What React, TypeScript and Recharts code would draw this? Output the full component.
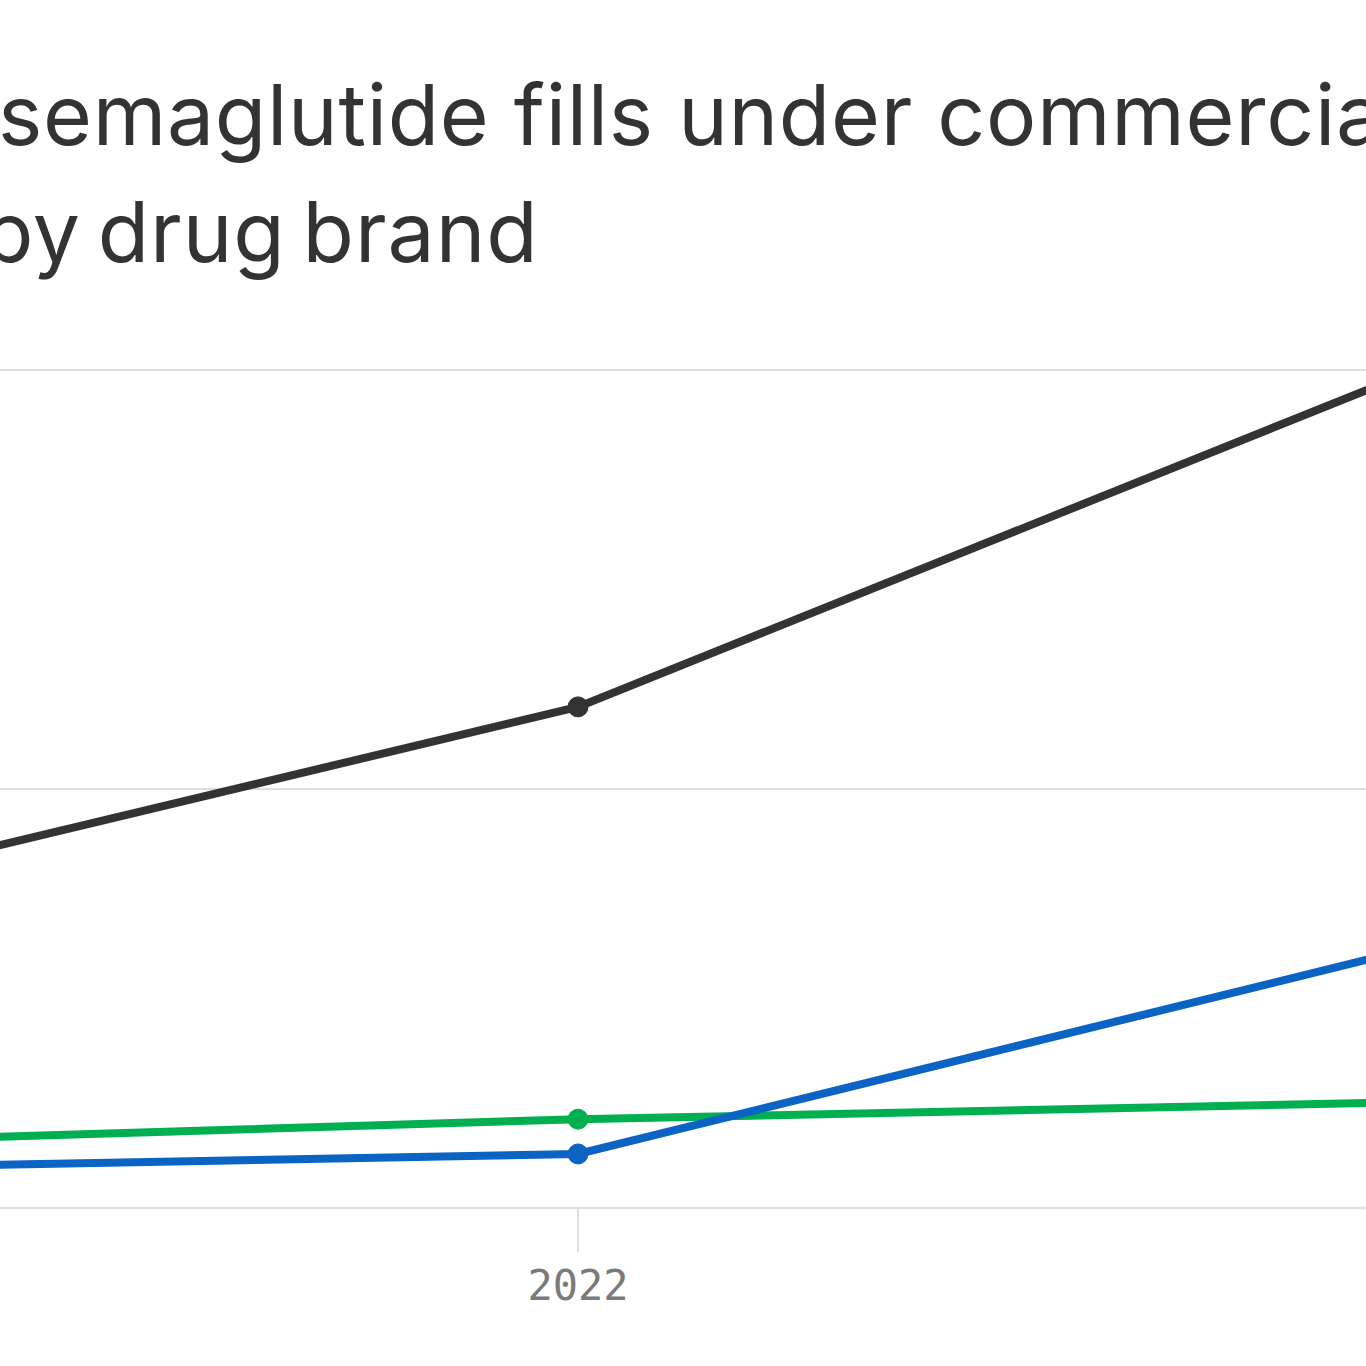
import React from "react";
import { LineChart, Line, XAxis, YAxis, CartesianGrid } from "recharts";

// fills by year, millions
const years = [2021, 2022, 2023];
const ozempic = [0.727, 1.196, 1.984];
const wegovy = [0.092, 0.129, 0.612];
const rybelsus = [0.152, 0.212, 0.252];
const yTicks = [0, 1, 2];
const xTicks = [2022];

const data = years.map((year, i) => ({
  year,
  ozempic: ozempic[i],
  wegovy: wegovy[i],
  rybelsus: rybelsus[i],
}));

const titleLines = ["semaglutide fills under commercial insurance,", "by drug brand"];

const App: React.FC = () => {
  return (
    <div
      style={{
        position: "absolute",
        left: 0,
        top: 0,
        width: 1366,
        height: 1366,
        overflow: "hidden",
        background: "#fff",
      }}
    >
      <svg width={1366} height={300} style={{ position: "absolute", left: 0, top: 0 }}>
        <text x={-2} y={145} fontFamily="Inter" fontSize={84} letterSpacing={0.7} fill="#333">
          {titleLines[0]}
        </text>
        <text
          x={-18}
          y={262}
          fontFamily="Inter"
          fontSize={84}
          letterSpacing={1}
          wordSpacing={-8}
          fill="#333"
        >
          {titleLines[1]}
        </text>
      </svg>
      <div style={{ position: "absolute", left: -244, top: 0 }}>
        <LineChart
          width={1644}
          height={1366}
          data={data}
          margin={{ top: 370, right: 0, left: 0, bottom: 0 }}
        >
          <CartesianGrid vertical={false} stroke="#dedede" strokeWidth={2} />
          <XAxis
            dataKey="year"
            type="number"
            domain={[2021, 2023]}
            ticks={xTicks}
            axisLine={false}
            tickSize={44}
            tickMargin={18}
            tickLine={{ stroke: "#dedede", strokeWidth: 2 }}
            tick={{ fontFamily: "DejaVu Sans Mono", fontSize: 42, fill: "#7a7a7a" }}
            height={158}
          />
          <YAxis hide domain={[0, 2]} ticks={yTicks} />
          <Line
            dataKey="ozempic"
            stroke="#333333"
            strokeWidth={8}
            dot={{ r: 10, fill: "#333333", stroke: "#333333", strokeWidth: 1 }}
            isAnimationActive={false}
          />
          <Line
            dataKey="rybelsus"
            stroke="#00b050"
            strokeWidth={8}
            dot={{ r: 10, fill: "#00b050", stroke: "#00b050", strokeWidth: 1 }}
            isAnimationActive={false}
          />
          <Line
            dataKey="wegovy"
            stroke="#0b63c4"
            strokeWidth={8}
            dot={{ r: 10, fill: "#0b63c4", stroke: "#0b63c4", strokeWidth: 1 }}
            isAnimationActive={false}
          />
        </LineChart>
      </div>
    </div>
  );
};

export default App;
